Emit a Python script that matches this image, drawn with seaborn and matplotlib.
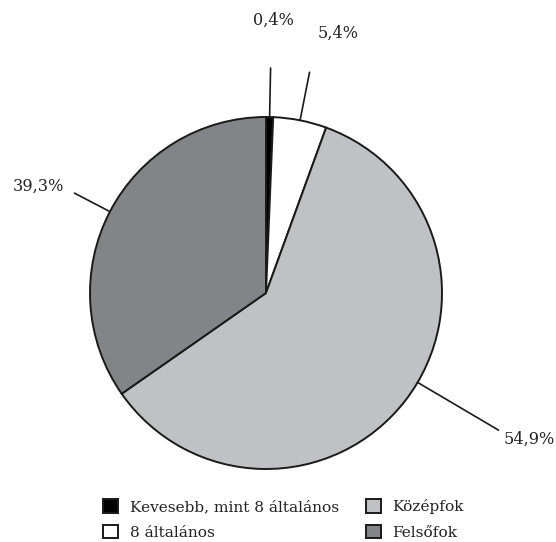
import numpy as np
import matplotlib
matplotlib.use("Agg")
import matplotlib.pyplot as plt
import seaborn as sns

# data (wedge sizes as drawn, labels as printed)
categories = ["Kevesebb, mint 8 általános", "8 általános", "Középfok", "Felsőfok"]
shares = [0.65, 4.9, 59.75, 34.7]
pct_labels = ["0,4%", "5,4%", "54,9%", "39,3%"]
colors = ["#000000", "#ffffff", "#c0c1c5", "#838488"]

sns.set_theme(style="white")
plt.rcParams["font.family"] = ["DejaVu Serif", "DejaVu Sans"]

fig = plt.figure(figsize=(5.56, 5.42), dpi=100)
ax = fig.add_axes([0, 0, 1, 1])

cx, cy, r = 266, 249, 176
wedges, _ = ax.pie(shares, colors=colors, startangle=90, counterclock=False,
                   center=(cx, cy), radius=r, frame=True,
                   wedgeprops=dict(edgecolor="#1a1a1a", linewidth=1.4))
ax.set_xlim(0, 556)
ax.set_ylim(0, 542)
ax.set_aspect("equal")
ax.axis("off")

# leader line tweaks: angle shift (deg), outer radius, text offset
shift = [0, 0, 7, 0]
outer = [225, 225, 270, 216]
txt_off = [(3, 48), (29, 39), (31, -9), (-36, 7)]

for w, lab, s, ro, (dx, dy) in zip(wedges, pct_labels, shift, outer, txt_off):
    ang = np.deg2rad((w.theta1 + w.theta2) / 2 + s)
    x0, y0 = cx + r * np.cos(ang), cy + r * np.sin(ang)
    x1, y1 = cx + ro * np.cos(ang), cy + ro * np.sin(ang)
    ax.plot([x0, x1], [y0, y1], color="#1a1a1a", lw=1.2)
    ax.text(x1 + dx, y1 + dy, lab, ha="center", va="center", fontsize=11.6,
            color="#222222")

leg = fig.legend(wedges, categories, loc="center", bbox_to_anchor=(283.5 / 556, 0.0415),
                 ncol=2, frameon=False, fontsize=11.1, handlelength=0.97,
                 handleheight=0.97, columnspacing=1.75, labelspacing=0.7,
                 handletextpad=0.75)
for t in leg.get_texts():
    t.set_color("#222222")

fig.savefig("out.png", dpi=100)
